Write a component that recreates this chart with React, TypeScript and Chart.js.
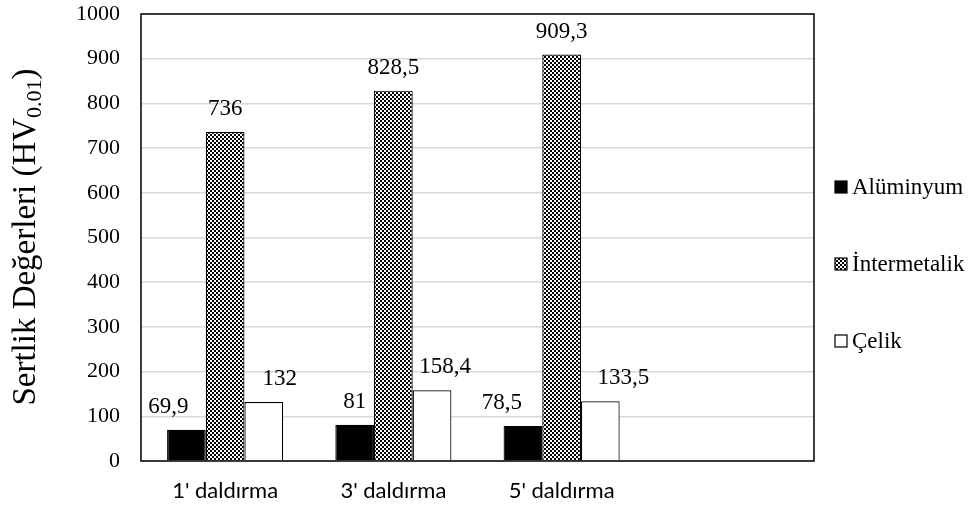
import React, { useEffect, useRef } from 'react';
import { Chart, registerables } from 'chart.js';

Chart.register(...registerables);

// Immersion times (a trailing empty slot keeps the right part of the plot free)
const categories: string[] = ["1' daldırma", "3' daldırma", "5' daldırma", ''];
const seriesNames: string[] = ['Alüminyum', 'İntermetalik', 'Çelik'];
const aluminyum: (number | null)[] = [69.9, 81, 78.5, null];
const intermetalik: (number | null)[] = [736, 828.5, 909.3, null];
const celik: (number | null)[] = [132, 158.4, 133.5, null];
const yMin = 0;
const yMax = 1000;
const yStep = 100;

const SERIF = '"Liberation Serif", "Times New Roman", serif';

// horizontal nudges of the value labels so they do not collide with the neighbouring bars
const labelShift: number[][] = [
  [-18, 0, -21, 0],
  [0, 0, 0, 0],
  [16, 13, 23, 0],
];

function makeChecker(): CanvasPattern | string {
  const c = document.createElement('canvas');
  const cell = 2;
  c.width = cell * 2;
  c.height = cell * 2;
  const g = c.getContext('2d');
  if (!g) return '#666';
  g.fillStyle = '#ffffff';
  g.fillRect(0, 0, c.width, c.height);
  g.fillStyle = '#000000';
  g.fillRect(0, 0, cell, cell);
  g.fillRect(cell, cell, cell, cell);
  return g.createPattern(c, 'repeat') || '#666';
}

const fmt = (v: number) => String(v).replace('.', ',');

const framePlugin = {
  id: 'plotFrame',
  afterDatasetsDraw(chart: any) {
    const { ctx, chartArea: a } = chart;
    ctx.save();
    ctx.strokeStyle = '#000';
    ctx.lineWidth = 1.5;
    ctx.strokeRect(a.left, a.top, a.right - a.left, a.bottom - a.top);
    ctx.restore();
  },
};

const valueLabelPlugin = {
  id: 'valueLabels',
  afterDatasetsDraw(chart: any) {
    const { ctx } = chart;
    ctx.save();
    ctx.font = `23px ${SERIF}`;
    ctx.fillStyle = '#000';
    ctx.textAlign = 'center';
    ctx.textBaseline = 'middle';
    chart.data.datasets.forEach((ds: any, di: number) => {
      const meta = chart.getDatasetMeta(di);
      meta.data.forEach((bar: any, i: number) => {
        const v = ds.data[i];
        if (v == null) return;
        ctx.fillText(fmt(v), bar.x + labelShift[di][i], bar.y - 23);
      });
    });
    ctx.restore();
  },
};

const yTitlePlugin = {
  id: 'yTitleSub',
  afterDraw(chart: any) {
    const { ctx } = chart;
    const main = 'Sertlik Değerleri (HV';
    const sub = '0.01';
    const close = ')';
    const big = `33px ${SERIF}`;
    const small = `22px ${SERIF}`;
    ctx.save();
    ctx.fillStyle = '#000';
    ctx.textBaseline = 'alphabetic';
    ctx.textAlign = 'left';
    ctx.font = big;
    const w1 = ctx.measureText(main).width;
    const w3 = ctx.measureText(close).width;
    ctx.font = small;
    const w2 = ctx.measureText(sub).width;
    const total = w1 + w2 + w3;
    const cx = 35;
    const cy = 237;
    ctx.translate(cx, cy);
    ctx.rotate(-Math.PI / 2);
    let x = -total / 2;
    ctx.font = big;
    ctx.fillText(main, x, 0);
    x += w1;
    ctx.font = small;
    ctx.fillText(sub, x, 6);
    x += w2;
    ctx.font = big;
    ctx.fillText(close, x, 0);
    ctx.restore();
  },
};

const legendPlugin = {
  id: 'sideLegend',
  afterDraw(chart: any) {
    const { ctx } = chart;
    const rows = [187, 264, 341];
    ctx.save();
    ctx.font = `23px ${SERIF}`;
    ctx.textBaseline = 'middle';
    ctx.textAlign = 'left';
    chart.data.datasets.forEach((ds: any, i: number) => {
      const y = rows[i];
      ctx.fillStyle = ds.backgroundColor;
      ctx.fillRect(835, y - 6, 12, 12);
      ctx.strokeStyle = '#000';
      ctx.lineWidth = 1.2;
      ctx.strokeRect(835, y - 6, 12, 12);
      ctx.fillStyle = '#000';
      ctx.fillText(ds.label, 852, y + 1);
    });
    ctx.restore();
  },
};

export default function App() {
  const ref = useRef<HTMLCanvasElement | null>(null);

  useEffect(() => {
    document.body.style.margin = '0';
    const canvas = ref.current;
    if (!canvas) return;
    const checker = makeChecker();
    const chart = new Chart(canvas, {
      type: 'bar',
      data: {
        labels: categories,
        datasets: [
          {
            label: seriesNames[0],
            data: aluminyum,
            backgroundColor: '#000000',
            borderColor: '#000000',
            borderWidth: 1.2,
          },
          {
            label: seriesNames[1],
            data: intermetalik,
            backgroundColor: checker as any,
            borderColor: '#000000',
            borderWidth: 1.2,
          },
          {
            label: seriesNames[2],
            data: celik,
            backgroundColor: '#ffffff',
            borderColor: '#000000',
            borderWidth: 1.2,
          },
        ],
      },
      options: {
        responsive: false,
        animation: false,
        datasets: { bar: { categoryPercentage: 0.69, barPercentage: 1 } },
        layout: { padding: { left: 0, top: 14, right: 165, bottom: 0 } },
        plugins: {
          legend: { display: false },
          tooltip: { enabled: false },
          title: { display: false },
        },
        scales: {
          x: {
            grid: { display: false, drawTicks: false },
            border: { display: false },
            ticks: {
              color: '#000',
              padding: 17,
              font: { family: 'Lato, "Open Sans", sans-serif', size: 22 },
              maxRotation: 0,
            },
            afterFit(scale: any) {
              scale.height = 47;
              scale.paddingLeft = 0;
              scale.paddingRight = 0;
            },
          },
          y: {
            min: yMin,
            max: yMax,
            grid: { color: '#d9d9d9', lineWidth: 1.5, drawTicks: false },
            border: { display: false },
            ticks: {
              stepSize: yStep,
              color: '#000',
              padding: 21,
              font: { family: SERIF, size: 22 },
              callback: (v: any) => String(v),
            },
            afterFit(scale: any) {
              scale.width = 141;
              scale.paddingTop = 0;
              scale.paddingBottom = 0;
            },
          },
        },
      },
      plugins: [framePlugin, valueLabelPlugin, yTitlePlugin, legendPlugin],
    });
    return () => chart.destroy();
  }, []);

  return (
    <div style={{ width: 979, height: 508, background: '#fff' }}>
      <canvas ref={ref} width={979} height={508} style={{ display: 'block' }} />
    </div>
  );
}
